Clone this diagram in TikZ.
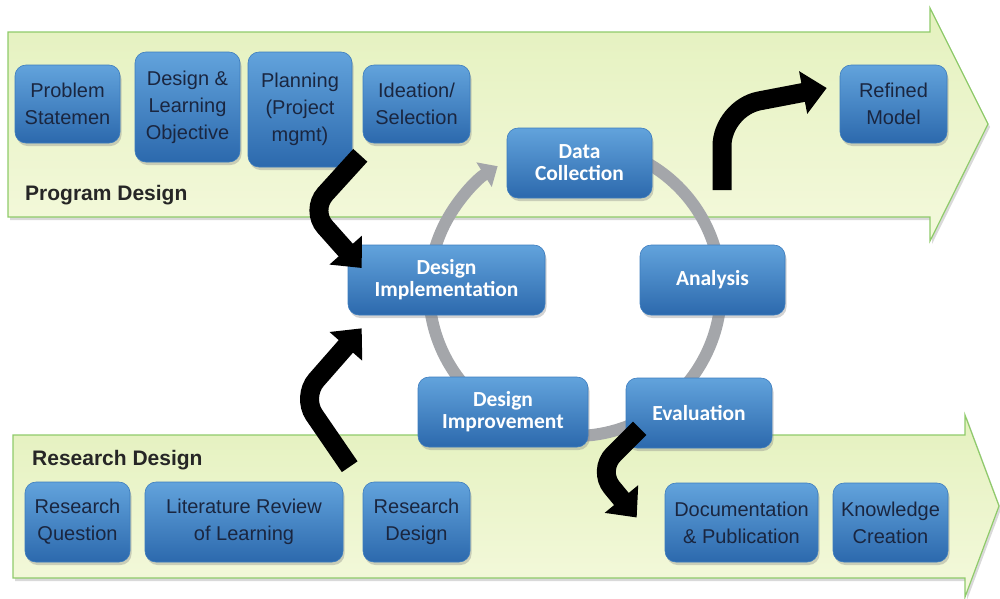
\documentclass[tikz,border=0pt]{standalone}
\usepackage{fontspec}
\newfontfamily\boxfont{Liberation Sans}
\newfontfamily\cyclefont{Carlito}
\usetikzlibrary{arrows.meta, positioning, shadows}

\definecolor{bandtop}{HTML}{E4F1BE}
\definecolor{bandbot}{HTML}{F4F9DC}
\definecolor{bandedge}{HTML}{8FCB6A}
\definecolor{boxtop}{HTML}{62A3DC}
\definecolor{boxbot}{HTML}{2C69AD}
\definecolor{boxedge}{HTML}{3C7CBE}
\definecolor{sidetext}{HTML}{1A2640}
\definecolor{ringgray}{HTML}{A4A6AA}

\begin{document}
\begin{tikzpicture}[
  x=1pt, y=-1pt,
  % Bands
  band/.style={draw=bandedge, line width=1.2pt, top color=bandtop, bottom color=bandbot,
    drop shadow={shadow xshift=2pt, shadow yshift=-3pt, opacity=0.3}},
  bandlabel/.style={font=\boxfont\bfseries\fontsize{21}{24}\selectfont, text=black!85, anchor=west, inner sep=0pt},
  % Base style for boxes
  basebox/.style={rounded corners=11pt, top color=boxtop, bottom color=boxbot, draw=boxedge,
    line width=0.6pt, align=center, inner sep=2pt,
    drop shadow={shadow xshift=1.5pt, shadow yshift=-3pt, opacity=0.35}},
  % Styles inheriting from basebox
  sidebox/.style={basebox, font=\boxfont\fontsize{20}{27}\selectfont, text=sidetext},
  cyclebox/.style={basebox, font=\cyclefont\bfseries\fontsize{21.5}{22}\selectfont, text=white},
  % Connectors
  bigarrow/.style={draw=black, line width=19pt, rounded corners=22pt,
    -{Triangle[length=24pt, width=42pt]}},
  ringarrow/.style={draw=ringgray, line width=12pt, -{Triangle[length=16pt, width=28pt]}}
]
  \useasboundingbox (0,0) rectangle (1000,598);

  % Program design band
  \path[band] (8,32) -- (930,32) -- (930,8) -- (988,124) -- (930,241) -- (930,217) -- (8,217) -- cycle;

  % Research design band
  \path[band] (13,435) -- (965,435) -- (965,415) -- (999,506) -- (965,597) -- (965,578) -- (13,578) -- cycle;

  % Band titles
  \node[bandlabel] (proglabel) at (25,195) {Program Design};
  \node[bandlabel] (reslabel) at (32,460) {Research Design};

  % Cycle ring
  \coordinate (ringc) at (575,290);
  \draw[ringarrow] ([shift={(60:146pt)}]ringc) arc[start angle=60, end angle=-238, radius=146pt];

  % Program design boxes
  \node[sidebox, minimum width=105pt, minimum height=78pt] (probstmt) at (67.5,104) {Problem\\Statemen};
  \node[sidebox, minimum width=105pt, minimum height=110pt] (designobj) at (187.5,107) {Design \&\\Learning\\Objective};
  \node[sidebox, minimum width=104pt, minimum height=115pt] (planning) at (300,109.5) {Planning\\(Project\\mgmt)};
  \node[sidebox, minimum width=107pt, minimum height=78pt] (ideation) at (416.5,104) {Ideation/\\Selection};
  \node[sidebox, minimum width=107pt, minimum height=78pt] (refined) at (893.5,104) {Refined\\Model};

  % Cycle boxes
  \node[cyclebox, minimum width=145pt, minimum height=70pt] (datacoll) at (579.5,163) {Data\\Collection};
  \node[cyclebox, minimum width=197pt, minimum height=70pt] (designimpl) at (446.5,280) {Design\\Implementation};
  \node[cyclebox, minimum width=145pt, minimum height=70pt] (analysis) at (712.5,280) {Analysis};
  \node[cyclebox, minimum width=170pt, minimum height=70pt] (designimp) at (503,412) {Design\\Improvement};
  \node[cyclebox, minimum width=146pt, minimum height=70pt] (evaluation) at (699,413) {Evaluation};

  % Research design boxes
  \node[sidebox, minimum width=105pt, minimum height=80pt] (resq) at (77.5,522) {Research\\Question};
  \node[sidebox, minimum width=198pt, minimum height=80pt] (litrev) at (244,522) {Literature Review\\of Learning};
  \node[sidebox, minimum width=107pt, minimum height=80pt] (resdesign) at (416.5,522) {Research\\Design};
  \node[sidebox, minimum width=153pt, minimum height=79pt] (docpub) at (741.5,522.5) {Documentation\\\& Publication};
  \node[sidebox, minimum width=115pt, minimum height=79pt] (knowledge) at (890.5,522.5) {Knowledge\\Creation};

  % Black arrows in and out of the cycle
  \draw[bigarrow] ([shift={(8pt,12pt)}]planning.south east) -- ++(-50,55) -- ([shift={(14pt,12pt)}]designimpl.west);
  \draw[bigarrow] ([shift={(-13pt,15pt)}]resdesign.north west) -- ++(-48,-70) -- ([shift={(14pt,-13pt)}]designimpl.south west);
  \coordinate (refinedtail) at (722,190);
  \draw[bigarrow, rounded corners=38pt] (refinedtail) -- ++(0,-82) -- ([shift={(-13pt,16pt)}]refined.west);
  \draw[bigarrow] ([shift={(14pt,20pt)}]evaluation.south west) -- ++(-42,42) -- ([shift={(-28pt,5pt)}]docpub.west);

\end{tikzpicture}
\end{document}
